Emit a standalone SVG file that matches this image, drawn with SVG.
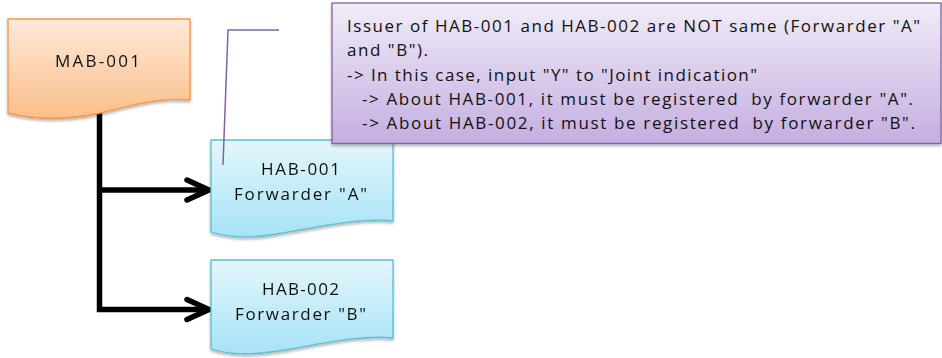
<svg xmlns="http://www.w3.org/2000/svg" width="942" height="358" viewBox="0 0 942 358">
<defs>
<linearGradient id="gOrange" x1="0" y1="0" x2="0" y2="1">
<stop offset="0" stop-color="#fde9da"/>
<stop offset="1" stop-color="#fbbf88"/>
</linearGradient>
<linearGradient id="gBlue" x1="0" y1="0" x2="0" y2="1">
<stop offset="0" stop-color="#e4f6fc"/>
<stop offset="1" stop-color="#a6e3f6"/>
</linearGradient>
<linearGradient id="gPurple" x1="0" y1="0" x2="0" y2="1">
<stop offset="0" stop-color="#f1ecf8"/>
<stop offset="1" stop-color="#c4aee0"/>
</linearGradient>
<filter id="sh" x="-5%" y="-5%" width="110%" height="120%">
<feGaussianBlur in="SourceAlpha" stdDeviation="1.5"/>
<feOffset dx="0" dy="2" result="b"/>
<feComponentTransfer><feFuncA type="linear" slope="0.3"/></feComponentTransfer>
<feMerge><feMergeNode/><feMergeNode in="SourceGraphic"/></feMerge>
</filter>
</defs>
<style>
.t{font-family:"Open Sans","Liberation Sans",sans-serif;font-size:17px;fill:#111}
.c{text-anchor:middle}
.pre{white-space:pre}
.conn{fill:none;stroke:#000;stroke-width:5.5;stroke-linejoin:miter}
.head{fill:none;stroke:#000;stroke-width:5.5;stroke-linecap:round;stroke-linejoin:miter}
.orange{fill:url(#gOrange);stroke:#f79646;stroke-width:1.3}
.blue{fill:url(#gBlue);stroke:#5bbdd3;stroke-width:1.3}
.callout{fill:url(#gPurple);stroke:#8064a2;stroke-width:1.3}
.lead{fill:none;stroke:#8064a2;stroke-width:1.5}
</style>

<g id="connectors">
<path class="conn" d="M99.5,113 V309.5 H205"/>
<path class="conn" d="M99.5,190 H205"/>
<polyline class="head" points="187,180 209,190 187,200"/>
<polyline class="head" points="187,299.5 209,309.5 187,319.5"/>
</g>

<g id="MAB-001" filter="url(#sh)">
<path class="orange" d="M8,19 H190 V100 C150,96 118,111 85,116 C55,120 28,118 8,113 Z"/>
<text class="t c" x="97.5" y="67" textLength="85" lengthAdjust="spacing">MAB-001</text>
</g>

<g id="HAB-001" filter="url(#sh)">
<path class="blue" d="M211,140 H393 V221 C355,217 310,229 270,235 C245,239 228,237 211,232 Z"/>
<text class="t c" x="300.5" y="175" textLength="79" lengthAdjust="spacing">HAB-001</text>
<text class="t c" x="300.5" y="200" textLength="133" lengthAdjust="spacing">Forwarder "A"</text>
</g>

<g id="HAB-002" filter="url(#sh)">
<path class="blue" d="M211,260 H393 V338 C355,334 310,347 270,352 C245,356 228,354 211,349 Z"/>
<text class="t c" x="300.5" y="295" textLength="77" lengthAdjust="spacing">HAB-002</text>
<text class="t c" x="300.5" y="320" textLength="131" lengthAdjust="spacing">Forwarder "B"</text>
</g>

<g id="note">
<path class="lead" d="M279,30 H228 L223,165"/>
<rect class="callout" x="332" y="3" width="609" height="140.5" filter="url(#sh)"/>
<text class="t" x="347" y="32" textLength="573" lengthAdjust="spacing">Issuer of HAB-001 and HAB-002 are NOT same (Forwarder "A"</text>
<text class="t" x="347" y="56" textLength="81" lengthAdjust="spacing">and "B").</text>
<text class="t" x="347" y="81" textLength="410" lengthAdjust="spacing">-&gt; In this case, input "Y" to "Joint indication"</text>
<text class="t pre" x="362" y="105" textLength="551" lengthAdjust="spacing">-&gt; About HAB-001, it must be registered  by forwarder "A".</text>
<text class="t pre" x="362" y="129" textLength="553" lengthAdjust="spacing">-&gt; About HAB-002, it must be registered  by forwarder "B".</text>
</g>
</svg>
